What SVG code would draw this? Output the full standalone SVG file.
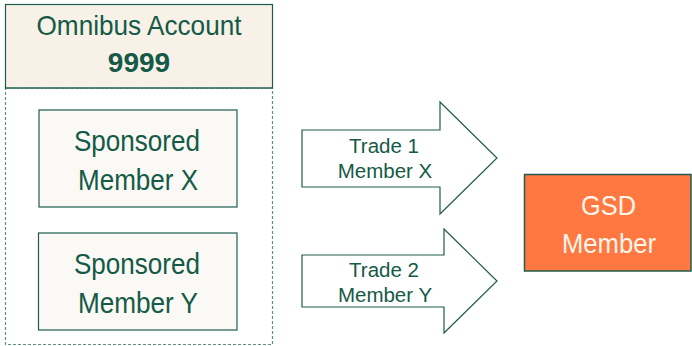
<svg xmlns="http://www.w3.org/2000/svg" width="692" height="346" viewBox="0 0 692 346">
  <style>
    .lbl { font-family: "Liberation Sans", Arial, sans-serif; fill: #145a46; text-anchor: middle; }
    .box { fill: #faf9f5; stroke: #1f5c4d; stroke-width: 1.2; }
    .arrow { fill: #ffffff; stroke: #1f5c4d; stroke-width: 1.2; }
  </style>
  <rect width="692" height="346" fill="#ffffff"/>

  <!-- Omnibus account container -->
  <g id="omnibus">
    <rect x="5.5" y="88" width="267" height="256.5" fill="none" stroke="#5f8f84" stroke-width="1.2" stroke-dasharray="3,2"/>
    <rect x="5.5" y="4.5" width="267" height="83.5" fill="#f7f1e8" stroke="#1f5c4d" stroke-width="1.2"/>
    <line x1="5.5" y1="88" x2="272.5" y2="88" stroke="#1f5c4d" stroke-width="1.2" stroke-dasharray="2,1"/>
    <text class="lbl" x="139" y="35" font-size="28" textLength="205" lengthAdjust="spacingAndGlyphs">Omnibus Account</text>
    <text class="lbl" x="139" y="72" font-size="28" font-weight="bold">9999</text>
  </g>

  <g id="member-x">
    <rect class="box" x="39" y="110" width="198" height="97"/>
    <text class="lbl" x="137" y="151" font-size="30" textLength="126" lengthAdjust="spacingAndGlyphs">Sponsored</text>
    <text class="lbl" x="138" y="190" font-size="30" textLength="120" lengthAdjust="spacingAndGlyphs">Member X</text>
  </g>

  <g id="member-y">
    <rect class="box" x="38.5" y="233" width="198.5" height="97"/>
    <text class="lbl" x="137" y="274" font-size="30" textLength="126" lengthAdjust="spacingAndGlyphs">Sponsored</text>
    <text class="lbl" x="138" y="313" font-size="30" textLength="120" lengthAdjust="spacingAndGlyphs">Member Y</text>
  </g>

  <!-- Trade flow arrows -->
  <g id="connectors">
    <g id="trade-1">
      <polygon class="arrow" points="302,130 440,130 440,102 497,158 440,214 440,187 302,187"/>
      <text class="lbl" x="384" y="153" font-size="20.5">Trade 1</text>
      <text class="lbl" x="385" y="178" font-size="20.5">Member X</text>
    </g>
    <g id="trade-2">
      <polygon class="arrow" points="302,255 444,255 444,229 497,281 444,333 444,307 302,307"/>
      <text class="lbl" x="384" y="277" font-size="20.5">Trade 2</text>
      <text class="lbl" x="385" y="302" font-size="20.5">Member Y</text>
    </g>
  </g>

  <g id="gsd-member">
    <rect x="524.5" y="174.5" width="166.5" height="96.5" fill="#ff7842" stroke="#1f5c4d" stroke-width="1.5"/>
    <text class="lbl" x="608.5" y="215" font-size="28" style="fill:#fff6ea" textLength="55" lengthAdjust="spacingAndGlyphs">GSD</text>
    <text class="lbl" x="609" y="253" font-size="28" style="fill:#fff6ea" textLength="94" lengthAdjust="spacingAndGlyphs">Member</text>
  </g>
</svg>
